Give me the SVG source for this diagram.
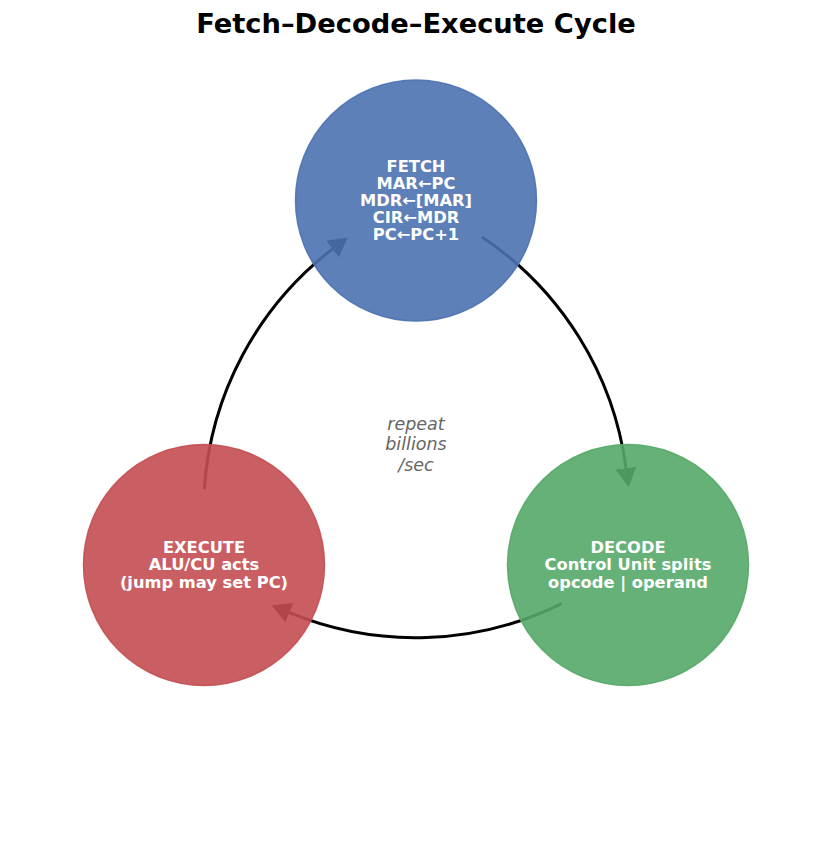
<svg xmlns="http://www.w3.org/2000/svg" width="831" height="857" viewBox="0 0 831 857">
<style>
.title{font-family:"DejaVu Sans",sans-serif;font-weight:bold;font-size:27.3px;fill:#000;text-anchor:middle}
.lbl{font-family:"DejaVu Sans",sans-serif;font-weight:bold;font-size:16.3px;fill:#fff;text-anchor:middle}
.note{font-family:"DejaVu Sans",sans-serif;font-style:italic;font-size:17.5px;fill:#666;text-anchor:middle}
.node{fill-opacity:0.9;stroke-opacity:0.9;stroke-width:1.5}
.arc{fill:none;stroke:#000;stroke-width:3;marker-end:url(#head)}
</style>
<defs>
<marker id="head" markerUnits="userSpaceOnUse" viewBox="0 -12 21 24" markerWidth="21" markerHeight="24" refX="0" refY="0" orient="auto">
<path d="M0,-10.5 L19,0 L0,10.5 Z" fill="#000"/>
</marker>
</defs>
<rect width="831" height="857" fill="#fff"/>
<text class="title" x="416" y="33">Fetch–Decode–Execute Cycle</text>
<g id="connectors">
<path class="arc" d="M482,237 A330,330 0 0 1 626,468.2"/>
<path class="arc" d="M482,237 A330,330 0 0 1 626,468.2" transform="rotate(120 416 443.3)"/>
<path class="arc" d="M482,237 A330,330 0 0 1 626,468.2" transform="rotate(240 416 443.3)"/>
</g>
<g id="fetch">
<circle class="node" cx="416" cy="200.5" r="120.5" fill="#4C72B0" stroke="#4C72B0"/>
<text class="lbl" x="416" y="171.5">FETCH</text>
<text class="lbl" x="416" y="188.6">MAR←PC</text>
<text class="lbl" x="416" y="205.7">MDR←[MAR]</text>
<text class="lbl" x="416" y="222.8">CIR←MDR</text>
<text class="lbl" x="416" y="239.9">PC←PC+1</text>
</g>
<g id="decode">
<circle class="node" cx="628" cy="565" r="120.5" fill="#55A868" stroke="#55A868"/>
<text class="lbl" x="628" y="553.3">DECODE</text>
<text class="lbl" x="628" y="570.4">Control Unit splits</text>
<text class="lbl" x="628" y="587.5">opcode | operand</text>
</g>
<g id="execute">
<circle class="node" cx="204" cy="565" r="120.5" fill="#C44E52" stroke="#C44E52"/>
<text class="lbl" x="204" y="553.3">EXECUTE</text>
<text class="lbl" x="204" y="570.4">ALU/CU acts</text>
<text class="lbl" x="204" y="587.5">(jump may set PC)</text>
</g>
<g id="center-note">
<text class="note" x="416" y="429.5">repeat</text>
<text class="note" x="416" y="450">billions</text>
<text class="note" x="416" y="470.5">/sec</text>
</g>
</svg>
